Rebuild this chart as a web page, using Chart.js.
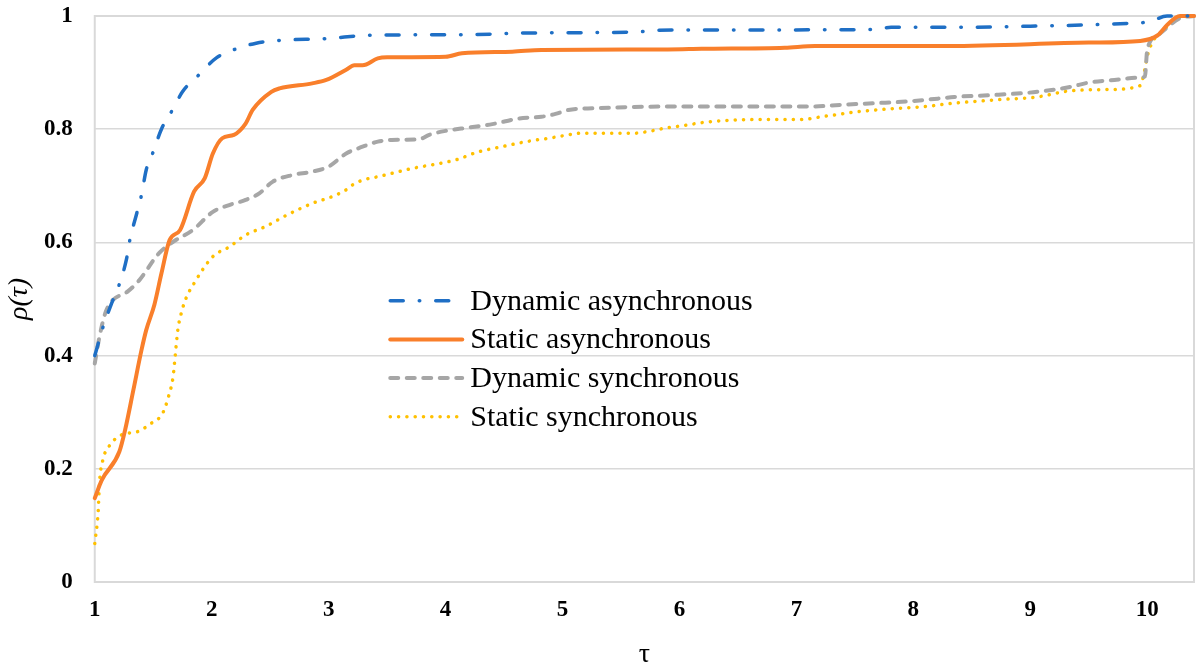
<!DOCTYPE html>
<html>
<head>
<meta charset="utf-8">
<script src="https://cdn.jsdelivr.net/npm/chart.js@4.4.1/dist/chart.umd.min.js"></script>
<style>
  html, body { margin: 0; padding: 0; background: #fff; }
  #wrap { width: 1200px; height: 667px; position: relative; }
</style>
</head>
<body>
<div id="wrap"><canvas id="perfChart"></canvas></div>
<script>
// performance profiles
const X_TICKS = [1, 2, 3, 4, 5, 6, 7, 8, 9, 10];
const Y_TICKS = [0, 0.2, 0.4, 0.6, 0.8, 1];

const DA_X = [1.0, 1.01, 1.07, 1.14, 1.21, 1.27, 1.30, 1.36, 1.40, 1.44, 1.50, 1.57, 1.67, 1.75, 1.90, 2.04, 2.21, 2.38, 2.59, 2.98, 3.35, 4.2, 4.7, 5.65, 5.8, 7.67, 7.81, 8.3, 9.0, 9.83, 10.02, 10.17, 10.4];
const DA_Y = [0.40, 0.407, 0.45, 0.49, 0.526, 0.569, 0.604, 0.652, 0.684, 0.728, 0.76, 0.80, 0.836, 0.866, 0.898, 0.926, 0.942, 0.952, 0.957, 0.96, 0.966, 0.967, 0.970, 0.972, 0.975, 0.976, 0.980, 0.980, 0.982, 0.987, 0.990, 1.0, 1.0];

const SA_X = [1.0, 1.06, 1.21, 1.26, 1.33, 1.40, 1.44, 1.51, 1.57, 1.64, 1.73, 1.85, 1.94, 2.01, 2.09, 2.19, 2.29, 2.35, 2.51, 2.58, 2.86, 2.98, 3.15, 3.22, 3.29, 3.42, 3.5, 4.0, 4.14, 4.57, 4.82, 5.9, 6.19, 6.9, 7.16, 8.3, 9.5, 9.94, 10.09, 10.17, 10.28, 10.4];
const SA_Y = [0.148, 0.18, 0.23, 0.269, 0.339, 0.41, 0.445, 0.49, 0.545, 0.604, 0.622, 0.69, 0.713, 0.757, 0.784, 0.79, 0.81, 0.834, 0.866, 0.872, 0.881, 0.887, 0.905, 0.913, 0.913, 0.925, 0.927, 0.928, 0.934, 0.937, 0.940, 0.941, 0.942, 0.944, 0.947, 0.947, 0.953, 0.956, 0.966, 0.984, 1.0, 1.0];

const DS_X = [1.0, 1.04, 1.09, 1.14, 1.28, 1.38, 1.55, 1.67, 1.84, 2.01, 2.15, 2.29, 2.41, 2.52, 2.69, 2.86, 3.0, 3.15, 3.29, 3.42, 3.54, 3.77, 3.86, 4.0, 4.2, 4.4, 4.63, 4.82, 4.94, 5.05, 5.28, 5.9, 7.16, 7.30, 7.67, 7.95, 8.21, 8.35, 8.64, 9.06, 9.35, 9.49, 9.72, 9.92, 9.98, 10.0, 10.09, 10.28, 10.4];
const DS_Y = [0.386, 0.433, 0.475, 0.495, 0.513, 0.533, 0.581, 0.601, 0.622, 0.654, 0.666, 0.675, 0.687, 0.707, 0.719, 0.725, 0.734, 0.757, 0.769, 0.778, 0.781, 0.782, 0.79, 0.797, 0.803, 0.809, 0.819, 0.822, 0.827, 0.834, 0.837, 0.840, 0.840, 0.842, 0.846, 0.849, 0.854, 0.857, 0.860, 0.866, 0.875, 0.882, 0.887, 0.891, 0.893, 0.94, 0.966, 0.996, 1.0];

const SS_X = [1.0, 1.03, 1.04, 1.07, 1.13, 1.23, 1.37, 1.48, 1.58, 1.63, 1.67, 1.69, 1.71, 1.74, 1.78, 1.85, 2.01, 2.15, 2.29, 2.46, 2.64, 2.86, 3.03, 3.15, 3.20, 3.29, 3.42, 3.7, 4.09, 4.28, 4.48, 4.69, 4.91, 5.05, 5.16, 5.62, 5.76, 5.88, 6.02, 6.25, 6.67, 7.02, 7.25, 7.53, 7.81, 8.10, 8.35, 8.72, 9.06, 9.35, 9.66, 9.94, 9.98, 10.0, 10.04, 10.14, 10.25, 10.4];
const SS_Y = [0.068, 0.127, 0.174, 0.216, 0.242, 0.26, 0.266, 0.28, 0.298, 0.327, 0.363, 0.404, 0.445, 0.475, 0.501, 0.528, 0.575, 0.592, 0.613, 0.628, 0.648, 0.669, 0.681, 0.693, 0.701, 0.71, 0.716, 0.73, 0.746, 0.76, 0.769, 0.778, 0.785, 0.79, 0.793, 0.793, 0.797, 0.802, 0.806, 0.813, 0.817, 0.817, 0.823, 0.831, 0.836, 0.840, 0.846, 0.852, 0.857, 0.868, 0.870, 0.877, 0.906, 0.928, 0.952, 0.975, 0.996, 1.0];

const SERIES = [
  { label: 'Dynamic asynchronous', xs: DA_X, ys: DA_Y, color: '#1f6fc5', dash: [13, 16, 0.5, 16], width: 3.5 },
  { label: 'Static asynchronous',  xs: SA_X, ys: SA_Y, color: '#f97f2b', dash: [],              width: 4 },
  { label: 'Dynamic synchronous',  xs: DS_X, ys: DS_Y, color: '#a6a6a6', dash: [8, 8.5],        width: 4 },
  { label: 'Static synchronous',   xs: SS_X, ys: SS_Y, color: '#ffc000', dash: [0.1, 8.2],      width: 3.5 },
];

const GRID = '#d9d9d9';
const SERIF = '"Liberation Serif", "Times New Roman", serif';

// legend drawn inside the plot, as in the original figure
const insideLegend = {
  id: 'insideLegend',
  afterDatasetsDraw(chart) {
    const { ctx, chartArea: a } = chart;
    const x0 = a.left + 0.267 * (a.right - a.left);
    let y = a.top + 0.503 * (a.bottom - a.top);
    ctx.save();
    ctx.font = '30px ' + SERIF;
    ctx.textBaseline = 'middle';
    ctx.fillStyle = '#000';
    chart.data.datasets.forEach(ds => {
      ctx.beginPath();
      ctx.strokeStyle = ds.borderColor;
      ctx.lineWidth = ds.borderWidth;
      ctx.lineCap = 'round';
      ctx.setLineDash(ds.borderDash);
      ctx.moveTo(x0 + 2, y);
      ctx.lineTo(x0 + 74, y);
      ctx.stroke();
      ctx.setLineDash([]);
      ctx.fillText(ds.label, x0 + 82, y + 1);
      y += 38.7;
    });
    ctx.restore();
  }
};

const frame = {
  id: 'frame',
  beforeDatasetsDraw(chart) {
    const { ctx, chartArea: a } = chart;
    ctx.save();
    ctx.strokeStyle = GRID;
    ctx.lineWidth = 2;
    ctx.strokeRect(a.left, a.top, a.right - a.left, a.bottom - a.top);
    ctx.restore();
  }
};

new Chart(document.getElementById('perfChart'), {
  type: 'line',
  data: {
    datasets: SERIES.map(s => ({
      label:       s.label,
      data:        s.xs.map((x, i) => ({ x, y: s.ys[i] })),
      borderColor: s.color,
      backgroundColor: s.color,
      borderWidth: s.width,
      borderDash:  s.dash,
      borderCapStyle: 'round',
      borderJoinStyle: 'round',
      cubicInterpolationMode: 'monotone',
      pointRadius: 0,
      fill:        false,
      clip:        4,
    })),
  },
  options: {
    responsive: true, maintainAspectRatio: false, animation: false,
    layout: { padding: { top: 16, right: 6, bottom: 0, left: 6 } },
    plugins: { legend: { display: false }, tooltip: { enabled: false } },
    scales: {
      x: {
        type: 'linear', min: 1, max: 10.4,
        afterBuildTicks: sc => { sc.ticks = X_TICKS.map(v => ({ value: v })); },
        grid: { display: false, drawTicks: false },
        border: { display: false },
        ticks: { font: { family: SERIF, size: 23, weight: 'bold', lineHeight: 1 }, color: '#000', padding: 17, maxRotation: 0 },
        title: {
          display: true, text: 'τ', color: '#000',
          font: { family: SERIF, size: 28, lineHeight: 1 },
          padding: { top: 2, bottom: -2 },
        },
      },
      y: {
        min: 0, max: 1,
        afterBuildTicks: sc => { sc.ticks = Y_TICKS.map(v => ({ value: v })); },
        afterFit: sc => { sc.paddingTop = 0; sc.paddingBottom = 0; },
        grid: { color: GRID, lineWidth: 1.5, drawTicks: false },
        border: { display: false },
        ticks: {
          font: { family: SERIF, size: 23, weight: 'bold' }, color: '#000', padding: 22,
          callback: v => String(v),
        },
        title: {
          display: true, text: 'ρ(τ)', color: '#000',
          font: { family: SERIF, size: 28, style: 'italic', lineHeight: 1 },
          padding: { top: 0, bottom: -12 },
        },
      },
    },
  },
  plugins: [frame, insideLegend],
});
</script>
</body>
</html>
